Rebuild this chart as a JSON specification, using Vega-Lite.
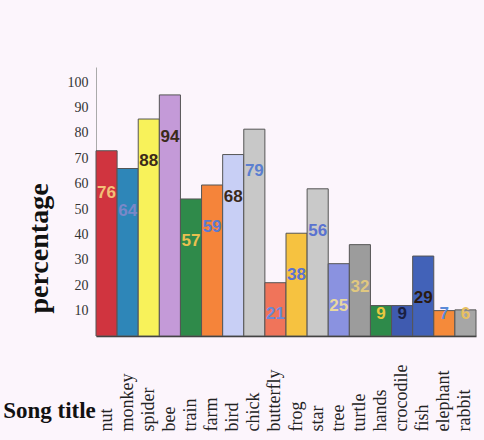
{
  "$schema": "https://vega.github.io/schema/vega-lite/v6.json",
  "width": 380,
  "height": 269,
  "autosize": {"type": "none"},
  "padding": {"left": 96, "top": 67, "right": 8, "bottom": 104},
  "background": "#fcf5fc",
  "config": {"view": {"stroke": null}, "axis": {"labelOverlap": false}},
  "data": {
    "values": [
      {"song": "nut", "value": 73, "label": "76"},
      {"song": "monkey", "value": 66, "label": "64"},
      {"song": "spider", "value": 85.5, "label": "88"},
      {"song": "bee", "value": 95, "label": "94"},
      {"song": "train", "value": 54, "label": "57"},
      {"song": "farm", "value": 59.5, "label": "59"},
      {"song": "bird", "value": 71.5, "label": "68"},
      {"song": "chick", "value": 81.5, "label": "79"},
      {"song": "butterfly", "value": 21, "label": "21"},
      {"song": "frog", "value": 40.5, "label": "38"},
      {"song": "star", "value": 58, "label": "56"},
      {"song": "tree", "value": 28.5, "label": "25"},
      {"song": "turtle", "value": 36, "label": "32"},
      {"song": "hands", "value": 12, "label": "9"},
      {"song": "crocodile", "value": 12, "label": "9"},
      {"song": "fish", "value": 31.5, "label": "29"},
      {"song": "elephant", "value": 10, "label": "7"},
      {"song": "rabbit", "value": 10.3, "label": "6"}
    ]
  },
  "encoding": {
    "x": {
      "field": "song",
      "type": "nominal",
      "sort": null,
      "scale": {"paddingInner": 0, "paddingOuter": 0},
      "axis": {
        "title": "Song title",
        "titleFont": "Liberation Serif",
        "titleFontWeight": "bold",
        "titleFontSize": 23,
        "titleColor": "#111",
        "titleX": -47,
        "titleY": 81,
        "titleAlign": "center",
        "titleBaseline": "alphabetic",
        "labelAngle": 270,
        "labelAlign": "left",
        "labelBaseline": "middle",
        "labelPadding": 95,
        "labelFont": "Liberation Serif",
        "labelFontSize": 18,
        "labelColor": "#222",
        "ticks": false,
        "domainColor": "#333",
        "domainWidth": 1.5
      }
    }
  },
  "layer": [
    {
      "mark": {"type": "bar", "stroke": "#555", "strokeWidth": 1},
      "encoding": {
        "y": {
          "field": "value",
          "type": "quantitative",
          "scale": {"domain": [0, 106], "nice": false},
          "axis": {
            "title": "percentage",
            "titleFont": "Liberation Serif",
            "titleFontWeight": "bold",
            "titleFontSize": 28,
            "titleColor": "#111",
            "titleAngle": 270,
            "titleX": -57,
            "titleY": 181,
            "titleAlign": "center",
            "titleBaseline": "middle",
            "values": [10, 20, 30, 40, 50, 60, 70, 80, 90, 100],
            "tickCount": 12,
            "labelOverlap": false,
            "labelFont": "Liberation Serif",
            "labelFontSize": 14,
            "labelColor": "#333",
            "labelPadding": 8,
            "ticks": false,
            "grid": false,
            "domainColor": "#aaa"
          }
        },
        "color": {
          "field": "song",
          "type": "nominal",
          "legend": null,
          "scale": {
            "domain": ["nut","monkey","spider","bee","train","farm","bird","chick","butterfly","frog","star","tree","turtle","hands","crocodile","fish","elephant","rabbit"],
            "range": ["#d0343f","#2e86b8","#f8f25a","#c49ad8","#2f8a4a","#f5843a","#c8cff5","#c8c8c8","#f0745a","#f6c240","#c9c9c9","#8a92e0","#9c9c9c","#2e8a4a","#3f5bb0","#4262b8","#f58a3a","#a6a6a6"]
          }
        }
      }
    },
    {
      "transform": [{"filter": "datum.value >= 25"}],
      "mark": {"type": "text", "baseline": "middle", "align": "center", "dy": 42, "font": "Liberation Sans", "fontSize": 17, "fontWeight": "bold"},
      "encoding": {
        "y": {"field": "value", "type": "quantitative"},
        "text": {"field": "label"},
        "color": {
          "field": "song",
          "type": "nominal",
          "legend": null,
          "scale": {
            "domain": ["nut","monkey","spider","bee","train","farm","bird","chick","butterfly","frog","star","tree","turtle","hands","crocodile","fish","elephant","rabbit"],
            "range": ["#f2c078","#7a88c8","#3b2a1a","#3b2a1a","#e8c050","#5a7ad0","#3b2a1a","#5b7fd0","#6a8ad8","#5a72d0","#5a72d0","#e8d8a0","#e0c880","#e8c840","#1a2040","#2a1a10","#5a8ad8","#e8c060"]
          }
        }
      }
    },
    {
      "transform": [{"filter": "datum.value < 25"}],
      "mark": {"type": "text", "baseline": "middle", "align": "center", "dy": -22, "font": "Liberation Sans", "fontSize": 17, "fontWeight": "bold"},
      "encoding": {
        "y": {"datum": 0, "type": "quantitative"},
        "text": {"field": "label"},
        "color": {
          "field": "song",
          "type": "nominal",
          "legend": null,
          "scale": {
            "domain": ["nut","monkey","spider","bee","train","farm","bird","chick","butterfly","frog","star","tree","turtle","hands","crocodile","fish","elephant","rabbit"],
            "range": ["#f2c078","#7a88c8","#3b2a1a","#3b2a1a","#e8c050","#5a7ad0","#3b2a1a","#5b7fd0","#6a8ad8","#5a72d0","#5a72d0","#e8d8a0","#e0c880","#e8c840","#1a2040","#2a1a10","#5a8ad8","#e8c060"]
          }
        }
      }
    }
  ],
  "resolve": {"scale": {"color": "independent"}}
}
